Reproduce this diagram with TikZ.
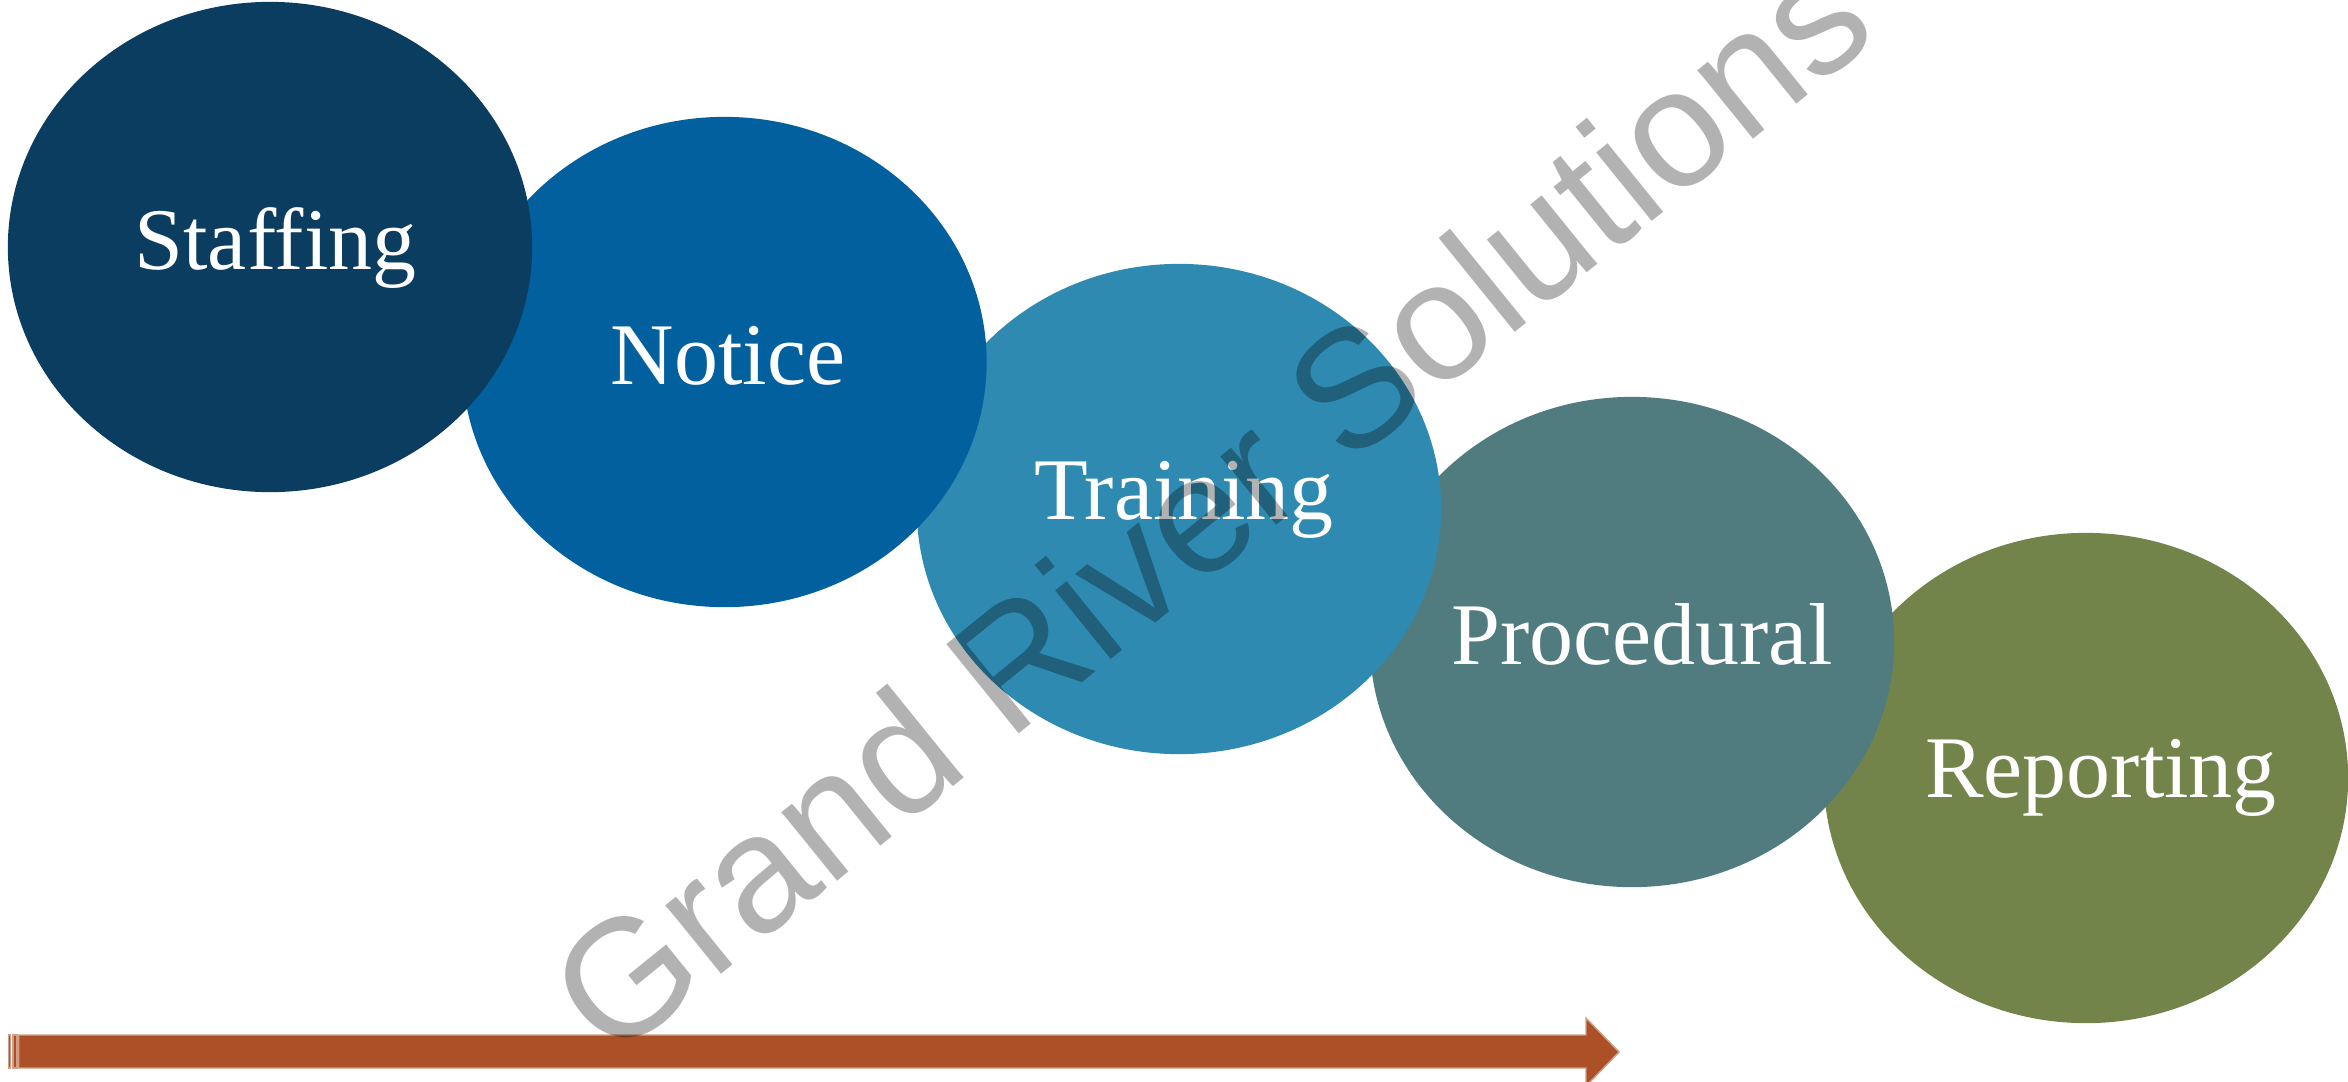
\documentclass[tikz,border=0pt]{standalone}
\usepackage{fontspec}
\setmainfont{Liberation Serif}
\newfontfamily\wmfont{Liberation Sans}
\usetikzlibrary{shapes.geometric}
\definecolor{cstaff}{HTML}{0A3D60}
\definecolor{cnotice}{HTML}{02609E}
\definecolor{ctrain}{HTML}{2E8AB0}
\definecolor{cproc}{HTML}{507B7F}
\definecolor{crep}{HTML}{73844B}
\definecolor{carrow}{HTML}{AB5027}
\tikzset{
  blob/.style={ellipse, inner sep=0pt, minimum width=5.24cm, minimum height=4.9cm, draw=none},
  lbl/.style={anchor=base, text=white, inner sep=0pt, font=\fontsize{25}{30}\selectfont},
  arrowpart/.style={fill=carrow, draw=carrow!55!white, line width=0.4pt},
  wmark/.style={rotate=39, text=black, text opacity=0.3, inner sep=0pt,
    font=\wmfont\fontsize{47.5}{56}\selectfont}
}
\begin{document}
\begin{tikzpicture}[x=0.01cm, y=-0.01cm]
\useasboundingbox (0,0) rectangle (2348,1081);
% ellipses, back to front
\node[blob, fill=crep]    (rep)   at (2086,778) {};
\node[lbl] (replbl) at (2101,797) {Reporting};
\node[blob, fill=cproc]   (proc)  at (1632,642) {};
\node[lbl] (proclbl) at (1642,664) {Procedural};
\node[blob, fill=ctrain]  (train) at (1179,509) {};
\node[lbl] (trainlbl) at (1184,519) {Training};
\node[blob, fill=cnotice] (notice) at (724.5,362) {};
\node[lbl] (noticelbl) at (728,384) {Notice};
\node[blob, fill=cstaff]  (staff) at (270,247) {};
\node[lbl] (stafflbl) at (275.5,269) {Staffing};
% striped arrow
\coordinate (abl) at (18.7,1068);
\coordinate (atip) at (1619,1052);
\filldraw[arrowpart] (8.3,1035) rectangle (10.7,1068);
\filldraw[arrowpart] (13,1035) rectangle (17,1068);
\filldraw[arrowpart] (abl) -- (18.7,1035) -- (1586,1035) -- (1586,1018) -- (atip)
  -- (1586,1086) -- (1586,1068) -- cycle;
% watermark
\node[wmark] (wm) at (1209,503) {Grand River Solutions};
\end{tikzpicture}
\end{document}
